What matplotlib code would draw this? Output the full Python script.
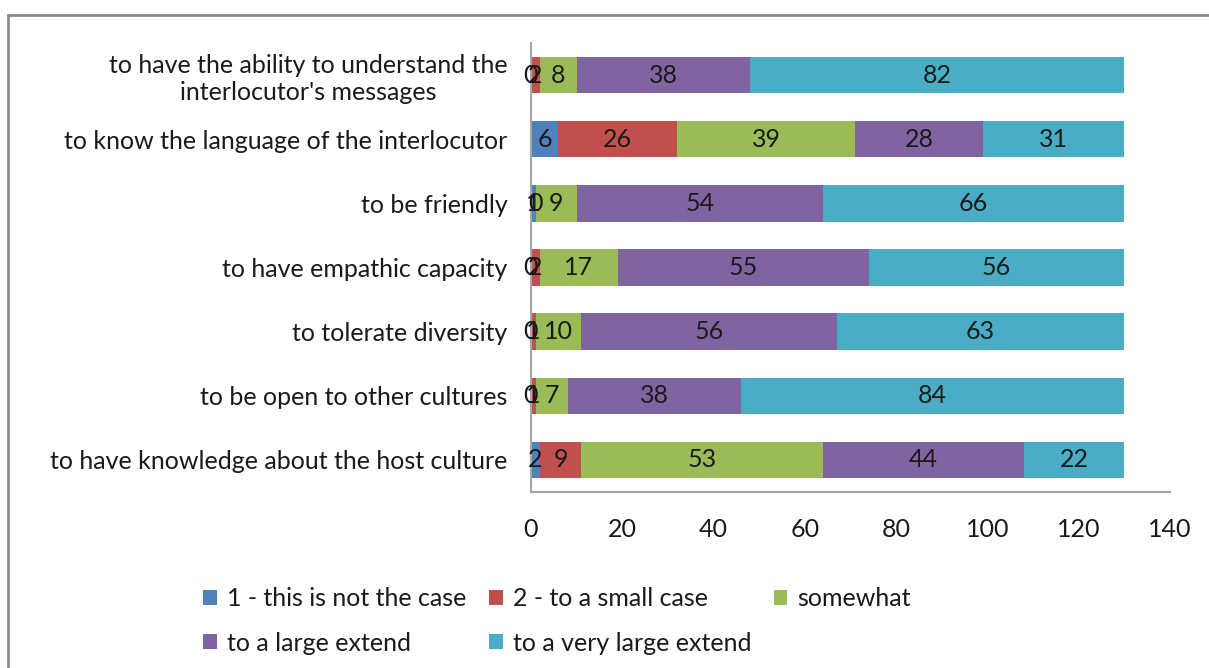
import matplotlib
matplotlib.use("Agg")
import matplotlib.pyplot as plt
from matplotlib.patches import Rectangle, Patch
import numpy as np

plt.rcParams['font.family'] = ['Lato', 'DejaVu Sans']

categories = [
    "to have knowledge about the host culture",
    "to be open to other cultures",
    "to tolerate diversity",
    "to have empathic capacity",
    "to be friendly",
    "to know the language of the interlocutor",
    "to have the ability to understand the\ninterlocutor's messages",
]
series_names = [
    "1 - this is not the case",
    "2 - to a small case",
    "somewhat",
    "to a large extend",
    "to a very large extend",
]
not_case = [2, 0, 0, 0, 1, 6, 0]
small_case = [9, 1, 1, 2, 0, 26, 2]
somewhat = [53, 7, 10, 17, 9, 39, 8]
large = [44, 38, 56, 55, 54, 28, 38]
very_large = [22, 84, 63, 56, 66, 31, 82]
xticks = [0, 20, 40, 60, 80, 100, 120, 140]

colors = ['#4F81BD', '#C0504D', '#9BBB59', '#8064A2', '#4BACC6']
series = [not_case, small_case, somewhat, large, very_large]

FS = 18
W, H = 1209, 668
fig = plt.figure(figsize=(W / 100, H / 100), dpi=100)
ax = fig.add_axes([531 / W, (H - 492) / H, (1170 - 531) / W, (492 - 43) / H])

y = np.arange(len(categories))
left = np.zeros(len(categories))
handles = []
for vals, col, name in zip(series, colors, series_names):
    vals = np.array(vals, dtype=float)
    ax.barh(y, vals, left=left, height=0.57, color=col, label=name)
    for yi, l, v in zip(y, left, vals):
        ax.text(l + v / 2, yi, f"{int(v)}", ha='center', va='center',
                fontsize=FS, color='#1a1a1a')
    left += vals
    handles.append(Patch(facecolor=col, edgecolor='none'))

ax.set_xlim(0, 140)
ax.set_ylim(-0.5, len(categories) - 0.5)
ax.set_xticks(xticks)
ax.set_xticklabels([str(t) for t in xticks], fontsize=FS, color='#1a1a1a')
ax.set_yticks(y)
ax.set_yticklabels(categories, fontsize=FS, color='#1a1a1a', multialignment='center',
                   linespacing=1.22)
ax.tick_params(axis='both', length=0)
ax.tick_params(axis='x', pad=19)
ax.tick_params(axis='y', pad=17)
for s in ['top', 'right']:
    ax.spines[s].set_visible(False)
for s in ['left', 'bottom']:
    ax.spines[s].set_color('#A6A6A6')
    ax.spines[s].set_linewidth(1.5)

order = [0, 3, 1, 4, 2]
leg = fig.legend([handles[i] for i in order], [series_names[i] for i in order],
                 ncol=3, loc='center', bbox_to_anchor=(557 / W, (H - 621) / H),
                 frameon=False, fontsize=FS, handlelength=0.55, handleheight=0.55,
                 handletextpad=0.4, columnspacing=0.9, labelspacing=0.85)
for t in leg.get_texts():
    t.set_color('#1a1a1a')

fig.patches.append(Rectangle((8 / W, -0.1), 1.2, (H - 15) / H + 0.1, transform=fig.transFigure,
                             fill=False, edgecolor='#8C8C8C', linewidth=2))

fig.savefig('out.png', dpi=100, facecolor='white')
